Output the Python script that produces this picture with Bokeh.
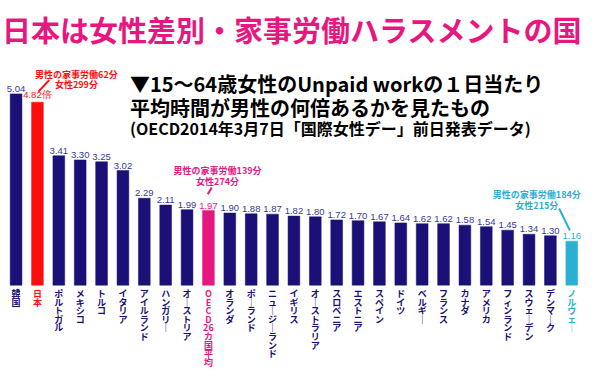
from bokeh.plotting import figure
from bokeh.models import ColumnDataSource, Label, Range1d
from bokeh.embed import file_html
from bokeh.resources import INLINE
from bokeh.core.properties import value

# ---- data ----
countries = ["韓国", "日本", "ポルトガル", "メキシコ", "トルコ", "イタリア", "アイルランド",
             "ハンガリー", "オーストリア", "OECD26カ国平均", "オランダ", "ポーランド",
             "ニュージーランド", "イギリス", "オーストラリア", "スロベニア", "エストニア",
             "スペイン", "ドイツ", "ベルギー", "フランス", "カナダ", "アメリカ",
             "フィンランド", "スウェーデン", "デンマーク", "ノルウェー"]
ratios = [5.04, 4.82, 3.41, 3.30, 3.25, 3.02, 2.29, 2.11, 1.99, 1.97, 1.90, 1.88, 1.87,
          1.82, 1.80, 1.72, 1.70, 1.67, 1.64, 1.62, 1.62, 1.58, 1.54, 1.45, 1.34, 1.30, 1.16]
title_text = "日本は女性差別・家事労働ハラスメントの国"
subtitle_lines = ["▼15～64歳女性のUnpaid workの１日当たり",
                  "平均時間が男性の何倍あるかを見たもの",
                  "(OECD2014年3月7日「国際女性デー」前日発表データ)"]
japan_note = ["男性の家事労働62分", "女性299分"]
oecd_note = ["男性の家事労働139分", "女性274分"]
norway_note = ["男性の家事労働184分", "女性215分"]

# ---- styles ----
NAVY = "#1b0f78"
RED = "#ff0d0d"
PINK = "#e8177f"
CYAN = "#2bb0d2"
special = {"日本": RED, "OECD26カ国平均": PINK, "ノルウェー": CYAN}
FONT_NAME = "Noto Sans CJK JP"
FONT = value(FONT_NAME)

n = len(countries)
xs = list(range(n))
bar_colors = [special.get(c, NAVY) for c in countries]
label_colors = [special.get(c, NAVY) for c in countries]
value_colors = [special.get(c, "#3a3a9c") for c in countries]
value_texts = [f"{v:.2f}" + ("倍" if c == "日本" else "") for c, v in zip(countries, ratios)]


def vertical(s):
    if s.startswith("OECD"):
        parts = ["O", "E", "C", "D", "26"] + list(s[6:])
    else:
        parts = list(s)
    return "\n".join("｜" if ch == "ー" else ch for ch in parts)


vert_labels = [vertical(c) for c in countries]

W, H = 583, 370
KX = W / 599
KY = H / 386
step = 21.96 * KX
ppu = 39.6 * KY
x0 = -(16 * KX) / step
y0 = -(H - 297 * KY) / ppu


def fx(rx):
    return rx * KX


def fy(ry):
    return H - ry * KY


def sx(rx):
    return x0 + fx(rx) / step


def sy(ry):
    return y0 + fy(ry) / ppu


p = figure(width=W, height=H, output_backend="svg", toolbar_location=None,
           x_range=Range1d(x0, x0 + W / step), y_range=Range1d(y0, y0 + H / ppu),
           min_border=0, outline_line_color=None)
p.xaxis.visible = False
p.yaxis.visible = False
p.grid.visible = False
p.background_fill_color = "white"

src = ColumnDataSource(dict(x=xs, top=ratios, color=bar_colors, lab=vert_labels,
                            lcol=label_colors, vt=value_texts, vcol=value_colors,
                            vy=[r + 0.05 for r in ratios]))

p.vbar(x="x", top="top", bottom=0, width=0.55, source=src, fill_color="color",
       line_color="color", line_alpha=0.5)

p.text(x="x", y="vy", text="vt", source=src, text_color="vcol", text_align="center",
       text_baseline="bottom", text_font=value("Liberation Sans"), text_font_size="9.5px")

p.text(x="x", y=-0.05, text="lab", source=src, text_color="lcol", text_align="center",
       text_baseline="top", text_font=FONT, text_font_style="bold",
       text_font_size="9px", text_line_height=0.66)

# title
p.add_layout(Label(x=fx(299.5), y=fy(30), x_units="screen", y_units="screen",
                   text=title_text, text_align="center", text_baseline="middle",
                   text_color=PINK, text_font=FONT_NAME, text_font_style="bold",
                   text_font_size="29px"))

sub_sizes = ["20px", "20px", "16px"]
sub_tops = [71, 96, 121]
for line, sz, t in zip(subtitle_lines, sub_sizes, sub_tops):
    p.add_layout(Label(x=fx(133), y=fy(t), x_units="screen", y_units="screen", text=line,
                       text_align="left", text_baseline="top", text_color="black",
                       text_font=FONT_NAME, text_font_style="bold", text_font_size=sz))


def note(lines, cx, top, color):
    for k, line in enumerate(lines):
        p.add_layout(Label(x=fx(cx), y=fy(top + 11 * k), x_units="screen", y_units="screen",
                           text=line, text_align="center", text_baseline="top",
                           text_color=color, text_font=FONT_NAME, text_font_style="bold",
                           text_font_size="9px"))


note(japan_note, 78, 70, RED)
note(oecd_note, 223, 171, PINK)
note(norway_note, 551, 196, CYAN)

p.line([sx(39), sx(50)], [sy(95), sy(83)], line_color=RED, line_width=2)
p.line([sx(213), sx(217)], [sy(202), sy(195)], line_color=PINK, line_width=2)
p.line([sx(574), sx(585)], [sy(217), sy(240)], line_color=CYAN, line_width=2)

open("out.html", "w").write(file_html(p, INLINE))
